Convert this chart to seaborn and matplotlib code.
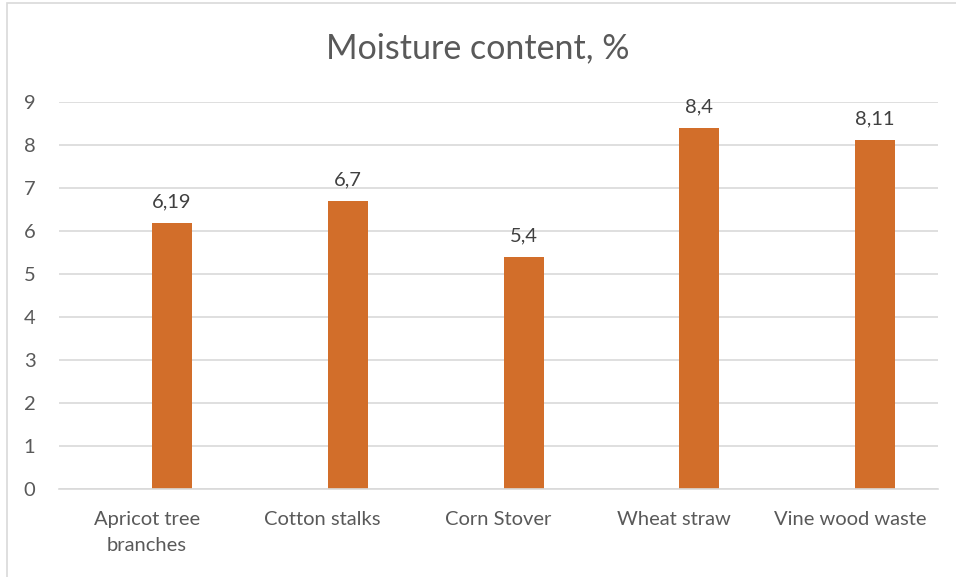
import pandas as pd
import matplotlib.pyplot as plt
import matplotlib.patches as mpatches
import seaborn as sns

# Chart data
categories = ['Apricot tree\nbranches', 'Cotton stalks', 'Corn Stover', 'Wheat straw', 'Vine wood waste']
moisture = [6.19, 6.7, 5.4, 8.4, 8.11]
value_labels = ['6,19', '6,7', '5,4', '8,4', '8,11']
y_ticks = [0, 1, 2, 3, 4, 5, 6, 7, 8, 9]

BAR_COLOR = '#D26E2A'
TEXT_COLOR = '#595959'
GRID_COLOR = '#D9D9D9'

sns.set_style('white')
plt.rcParams['font.family'] = ['Lato', 'DejaVu Sans']

df = pd.DataFrame({'category': categories, 'value': moisture, 'series': 'Moisture'})

fig = plt.figure(figsize=(9.56, 5.77), dpi=100)
ax = fig.add_axes([59 / 956, 1 - 489 / 577, 879 / 956, 387 / 577])

# Excel-style cluster with an empty first series, so the bars sit right of centre
sns.barplot(data=df, x='category', y='value', hue='series',
            hue_order=['(empty)', 'Moisture'], palette=[BAR_COLOR, BAR_COLOR],
            width=0.57, gap=0.2, dodge=True, legend=False, ax=ax,
            saturation=1, edgecolor='none')

bars = [p for p in ax.patches if p.get_height() > 0]
for p, lbl in zip(bars, value_labels):
    ax.annotate(lbl, (p.get_x() + p.get_width() / 2, p.get_height()),
                xytext=(0, 9), textcoords='offset points',
                ha='center', va='bottom', fontsize=14.5, color='#404040')

ax.set_xlim(-0.5, 4.5)
ax.set_ylim(0, 9)
ax.set_yticks(y_ticks)
ax.set_xlabel('')
ax.set_ylabel('')
ax.yaxis.grid(True, color=GRID_COLOR, linewidth=1.2)
ax.set_axisbelow(True)
for s in ['top', 'right', 'left']:
    ax.spines[s].set_visible(False)
ax.spines['bottom'].set_color(GRID_COLOR)
ax.spines['bottom'].set_linewidth(1.2)
ax.tick_params(axis='both', length=0, labelsize=14.5, colors=TEXT_COLOR)
ax.tick_params(axis='y', pad=17)
ax.tick_params(axis='x', pad=16)
for t in ax.get_xticklabels():
    t.set_linespacing(1.6)

fig.text(0.5, 1 - 48 / 577, 'Moisture content, %', ha='center', va='center',
         fontsize=24.5, color=TEXT_COLOR)

# chart frame
frame = mpatches.Rectangle((7 / 956, -0.1), 1.2, (574 / 577) + 0.1,
                           transform=fig.transFigure, fill=False,
                           edgecolor=GRID_COLOR, linewidth=1.2)
fig.patches.append(frame)

fig.savefig('out.png', dpi=100)
